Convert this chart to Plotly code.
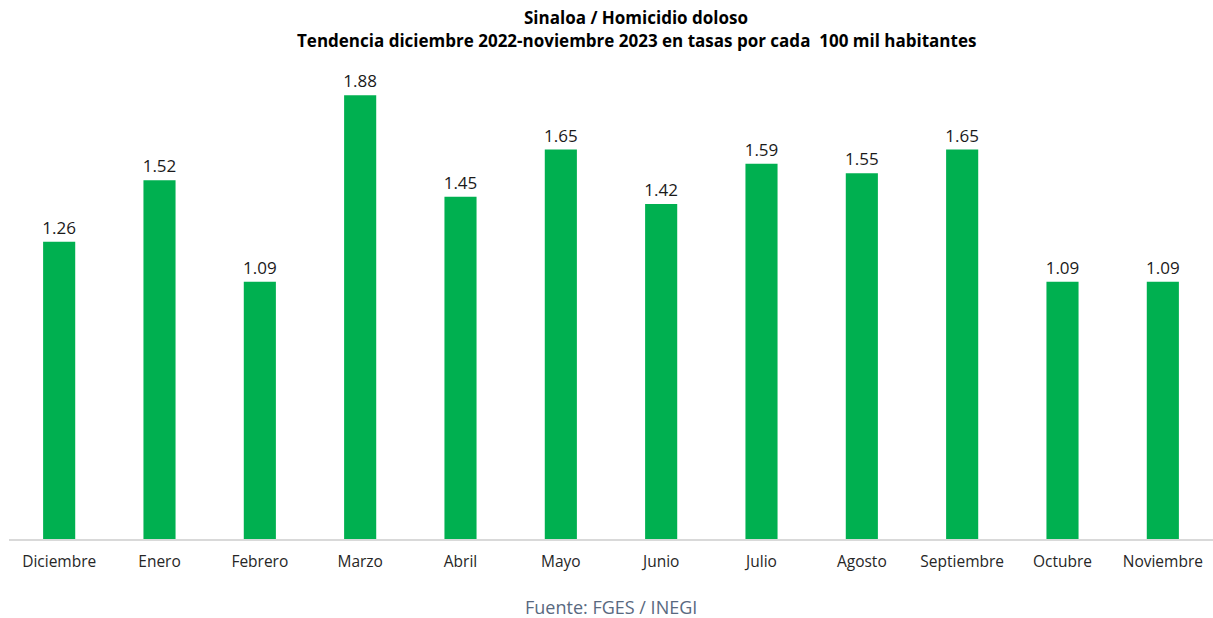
import plotly.graph_objects as go

meses = ["Diciembre", "Enero", "Febrero", "Marzo", "Abril", "Mayo", "Junio",
         "Julio", "Agosto", "Septiembre", "Octubre", "Noviembre"]
tasas = [1.26, 1.52, 1.09, 1.88, 1.45, 1.65, 1.42, 1.59, 1.55, 1.65, 1.09, 1.09]

titulo1 = "Sinaloa / Homicidio doloso"
titulo2 = "Tendencia diciembre 2022-noviembre 2023 en tasas por cada  100 mil habitantes"
fuente = "Fuente: FGES / INEGI"

W, H = 1213, 618
L, R, T, B = 9, 0, 67, 79
FONT = "Open Sans"

fig = go.Figure(go.Bar(
    x=meses, y=tasas,
    marker=dict(color="#00B050", line=dict(width=0)),
    text=[f"{v:.2f}" for v in tasas],
    textposition="outside",
    constraintext="none",
    textfont=dict(family=FONT, size=17, color="#1a1a1a"),
    cliponaxis=False,
))

fig.update_layout(
    width=W, height=H,
    margin=dict(l=L, r=R, t=T, b=B),
    plot_bgcolor="white", paper_bgcolor="white",
    bargap=0.68,
    showlegend=False,
    xaxis=dict(showline=True, linecolor="#d9d9d9", linewidth=1.5,
               ticks="outside", ticklen=8, tickcolor="rgba(0,0,0,0)",
               tickfont=dict(family=FONT, size=15.5, color="#262626"),
               showgrid=False),
    yaxis=dict(range=[0, 2.0], visible=False, showgrid=False),
)

ph = H - T - B
cx = (636 - L) / (W - L - R)
fig.add_annotation(text=f"<b>{titulo1}</b>", xref="paper", yref="paper",
                   x=cx, y=(H - 17 - B) / ph, showarrow=False,
                   xanchor="center", yanchor="middle",
                   font=dict(family=FONT, size=17, color="#000000"))
fig.add_annotation(text=f"<b>{titulo2}</b>", xref="paper", yref="paper",
                   x=cx, y=(H - 40 - B) / ph, showarrow=False,
                   xanchor="center", yanchor="middle",
                   font=dict(family=FONT, size=17, color="#000000"))
fig.add_annotation(text=fuente, xref="paper", yref="paper",
                   x=(611 - L) / (W - L - R), y=(H - 607 - B) / ph,
                   showarrow=False, xanchor="center", yanchor="middle",
                   font=dict(family=FONT, size=18, color="#596980"))

fig.write_html("out.html", config={"displayModeBar": False},
               post_script="document.body.style.margin='0';document.body.style.padding='0';")
